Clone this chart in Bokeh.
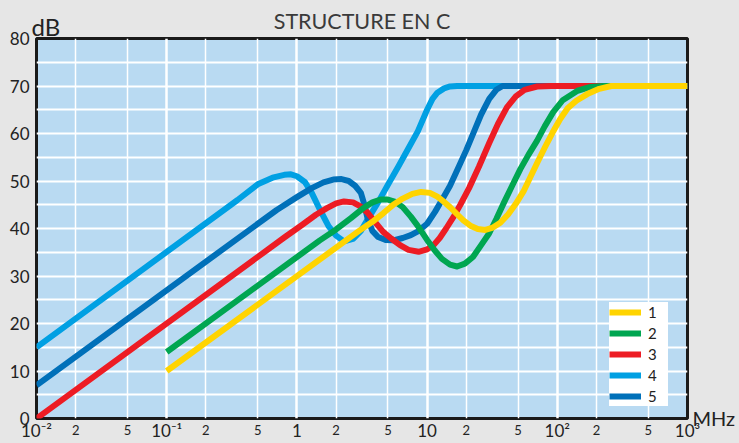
from bokeh.plotting import figure
from bokeh.models import (FixedTicker, Grid, Label, Legend, LegendItem, LogAxis)
from bokeh.embed import file_html
from bokeh.resources import INLINE

# ---------------- data ----------------
f1 = [0.1, 3.0, 3.8, 4.6, 5.5, 6.5, 7.7, 9.0, 10.5, 12, 13.5, 15, 17, 19, 21.5, 24.5,
      28, 32, 36.5, 42, 48, 55, 62, 70, 80, 92, 105, 120, 140, 170, 210, 260, 1000]
db1 = [10, 39.5, 41.4, 43.2, 45.0, 46.3, 47.3, 47.7, 47.5, 46.7, 45.6, 44.5, 43.0, 41.7,
       40.6, 39.9, 39.7, 40.2, 41.2, 43.0, 45.2, 47.8, 50.8, 53.8, 57.0, 60.2, 63.0, 65.3,
       66.9, 68.3, 69.4, 70, 70]

f2 = [0.1, 1.5, 2.0, 2.6, 3.2, 3.8, 4.4, 5.0, 5.7, 6.5, 7.5, 8.5, 10, 11.5, 13, 15, 17,
      19.5, 22.5, 26, 30, 34, 39, 45, 52, 60, 70, 80, 93, 110, 143, 180, 226, 1000]
db2 = [14, 37.5, 39.8, 42.2, 44.2, 45.5, 46.1, 46.1, 45.6, 44.5, 42.5, 40.5, 37.6, 35.3,
       33.6, 32.4, 32.0, 32.6, 34.0, 36.5, 39.0, 42.0, 45.5, 49.0, 52.5, 55.5, 58.5, 61.5,
       64.5, 67.0, 69.0, 69.8, 70, 70]

f3 = [0.01, 0.8, 1.1, 1.4, 1.7, 2.0, 2.3, 2.7, 3.1, 3.5, 4.0, 4.6, 5.3, 6.2, 7.2, 8.6, 10,
      11.3, 12.5, 14, 16, 18, 21, 25, 30, 35, 41, 48, 56, 70, 90, 1000]
db3 = [0, 38.1, 40.8, 42.9, 44.3, 45.3, 45.7, 45.5, 44.6, 43.3, 41.3, 39.3, 37.9, 36.5,
       35.5, 35.1, 35.6, 36.6, 38.0, 40.0, 42.5, 45.0, 48.5, 53.0, 58.0, 62.0, 65.5, 67.8,
       69.2, 69.9, 70, 70]

f4 = [0.01, 0.35, 0.5, 0.65, 0.8, 0.9, 1.0, 1.15, 1.3, 1.5, 1.75, 2.0, 2.3, 2.7, 3.1, 3.6,
      4.2, 5.0, 6.0, 7.0, 8.5, 10, 11, 12, 13.5, 15, 17, 1000]
db4 = [15, 46, 49.3, 50.7, 51.3, 51.4, 51.0, 49.8, 47.5, 44.0, 40.5, 38.5, 37.3, 37.8, 39.5,
       42.5, 45.5, 49.2, 53.0, 56.3, 60.5, 65.0, 67.3, 68.6, 69.5, 69.9, 70, 70]

f5 = [0.01, 0.7, 1.0, 1.3, 1.6, 1.9, 2.2, 2.5, 2.8, 3.1, 3.3, 3.5, 3.8, 4.2, 4.8, 5.5, 6.5,
      7.5, 8.5, 10, 11.5, 13, 15, 17.5, 20, 23, 26, 30, 34, 38, 1000]
db5 = [7, 43.9, 46.6, 48.5, 49.7, 50.3, 50.4, 50.0, 49.0, 47.5, 45.0, 42.0, 39.5, 38.2, 37.6,
       37.5, 38.0, 38.6, 39.4, 41.0, 43.5, 46.0, 49.0, 53.0, 56.5, 60.5, 64.0, 67.3, 69.2,
       70, 70]

series_names = ["1", "2", "3", "4", "5"]
series_colors = ["#ffd400", "#00a651", "#ed1c24", "#00a0e3", "#0070b9"]

decade_ticks = [0.01, 0.1, 1, 10, 100, 1000]
decade_labels = ["10⁻²", "10⁻¹", "1", "10", "10²", "10³"]
minor_ticks = [0.02, 0.05, 0.2, 0.5, 2, 5, 20, 50, 200, 500]
minor_labels = ["2", "5", "2", "5", "2", "5", "2", "5", "2", "5"]
db_ticks = [0, 10, 20, 30, 40, 50, 60, 70, 80]
db_grid = [5, 10, 15, 20, 25, 30, 35, 40, 45, 50, 55, 60, 65, 70, 75]

FONT = "Lato"
TXT = "#222222"

p = figure(width=739, height=443, x_axis_type="log", x_range=(0.01, 1000), y_range=(0, 80),
           output_backend="svg", toolbar_location=None,
           min_border_left=36, min_border_right=52, min_border_top=38, min_border_bottom=24,
           background_fill_color="#b9daf2", border_fill_color="#e6e6e6",
           outline_line_color="#1a1a1a", outline_line_width=3)

p.title.text = "STRUCTURE EN C"
p.title.align = "center"
p.title.offset = -12
p.title.text_font = FONT
p.title.text_font_size = "21.5px"
p.title.text_font_style = "normal"
p.title.text_color = "#3a3a3a"
p.title.standoff = 9

p.xgrid.visible = False
p.ygrid.visible = False

p.add_layout(Grid(dimension=0, ticker=FixedTicker(ticks=minor_ticks),
                  grid_line_color="white", grid_line_width=1.5))
p.add_layout(Grid(dimension=0, ticker=FixedTicker(ticks=decade_ticks),
                  grid_line_color="white", grid_line_width=2.5))
p.add_layout(Grid(dimension=1, ticker=FixedTicker(ticks=db_grid),
                  grid_line_color="white", grid_line_width=1.8))

p.xaxis.ticker = FixedTicker(ticks=decade_ticks)
p.xaxis.major_label_overrides = dict(zip(decade_ticks, decade_labels))
p.xaxis.major_label_standoff = -5
p.yaxis.ticker = FixedTicker(ticks=db_ticks)

minor_axis = LogAxis(ticker=FixedTicker(ticks=minor_ticks),
                     major_label_overrides=dict(zip(minor_ticks, minor_labels)),
                     major_label_standoff=-25)
p.add_layout(minor_axis, "below")

for ax in (p.xaxis[0], p.yaxis[0], minor_axis):
    ax.axis_line_color = None
    ax.major_tick_line_color = None
    ax.minor_tick_line_color = None
    ax.major_label_text_font = FONT
    ax.major_label_text_font_size = "17px"
    ax.major_label_text_color = TXT
minor_axis.major_label_text_font_size = "13px"

freqs = [f1, f2, f3, f4, f5]
dbs = [db1, db2, db3, db4, db5]
renderers = {}
for i in [3, 4, 2, 1, 0]:
    renderers[i] = p.line(freqs[i], dbs[i], line_color=series_colors[i], line_width=6,
                          line_cap="butt", line_join="round")

legend = Legend(items=[LegendItem(label=series_names[i], renderers=[renderers[i]])
                       for i in range(5)],
                location=(573, 12), margin=0, padding=6, spacing=1,
                label_height=20, glyph_height=20, glyph_width=32, label_standoff=7,
                label_text_font=FONT, label_text_font_size="15px", label_text_color=TXT,
                background_fill_color="white", background_fill_alpha=1.0,
                border_line_color=None)
p.add_layout(legend)

# "dB" unit label: its own panel right next to the frame, y axis labels pulled back in
db_label = Label(x=24, y=392, x_units="screen", y_units="screen", text="dB",
                 text_align="left", text_baseline="alphabetic", text_font=FONT,
                 text_font_size="24px", text_color=TXT)
p.left = [db_label] + list(p.left)
p.yaxis.major_label_standoff = -28

p.add_layout(Label(x=5, y=1, x_units="screen", y_units="screen", text="MHz",
                   text_align="left", text_baseline="alphabetic", text_font=FONT,
                   text_font_size="20px", text_color=TXT), "right")

html = file_html(p, INLINE, title="Structure en C")
html = html.replace("<head>", "<head><style>html,body{margin:0;padding:0;"
                    "background:#e6e6e6;overflow:hidden;}</style>", 1)
open("out.html", "w").write(html)
